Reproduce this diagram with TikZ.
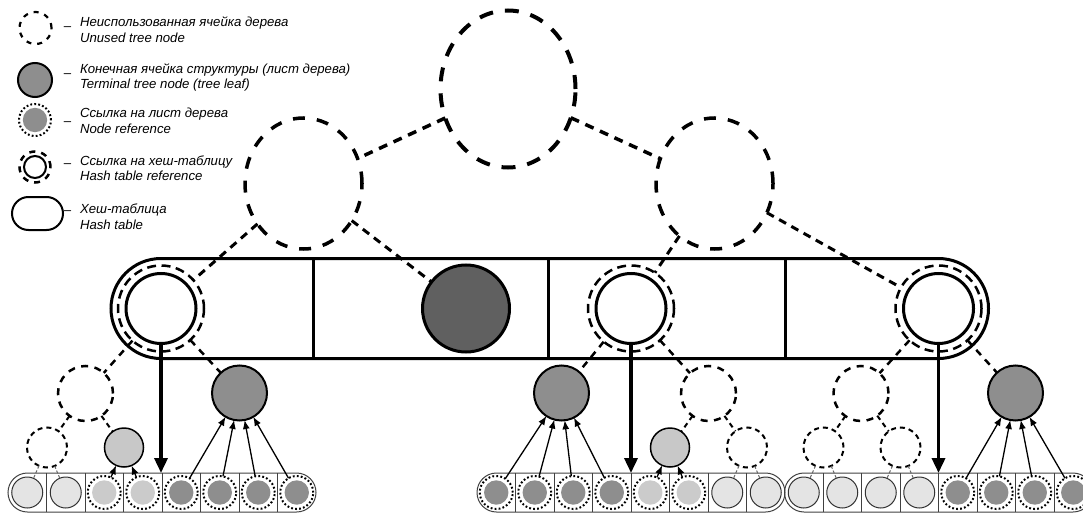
\documentclass[tikz,border=0pt]{standalone}
\usepackage{fontspec}
\setmainfont{Liberation Sans}
\usetikzlibrary{shapes.geometric,arrows.meta}
\definecolor{darkleaf}{HTML}{606060}
\definecolor{leafgray}{HTML}{8E8E8E}
\definecolor{lightleaf}{HTML}{C8C8C8}
\definecolor{plainlight}{HTML}{E4E4E4}
\definecolor{dotlight}{HTML}{CBCBCB}
\definecolor{dotdark}{HTML}{8E8E8E}
\begin{document}
\begin{tikzpicture}[x=1pt,y=-1pt,
  every node/.style={inner sep=0pt,outer sep=0pt},
  rootnode/.style={ellipse,draw,line width=4pt,dash pattern=on 14pt off 12pt,minimum width=135pt,minimum height=157pt},
  levelone/.style={ellipse,draw,line width=3.5pt,dash pattern=on 12pt off 12pt,minimum width=117pt,minimum height=131pt},
  midunused/.style={circle,draw,line width=2.5pt,dash pattern=on 7pt off 6.5pt,minimum size=55pt},
  smallunused/.style={circle,draw,line width=2pt,dash pattern=on 5pt off 4pt,minimum size=40pt},
  topedge/.style={line width=3.5pt,dash pattern=on 9pt off 7pt},
  hedge/.style={line width=3pt,dash pattern=on 8pt off 6pt},
  midedge/.style={line width=2.5pt,dash pattern=on 7pt off 6pt},
  smalledge/.style={line width=2pt,dash pattern=on 5pt off 4pt},
  tinyedge/.style={line width=1pt,draw=black!60,dash pattern=on 3pt off 2pt},
  hashin/.style={circle,draw,line width=3pt,fill=white,minimum size=70pt},
  hashout/.style={circle,draw,line width=2.5pt,dash pattern=on 9pt off 5.5pt,minimum size=86pt},
  bigleaf/.style={circle,draw,line width=3pt,fill=darkleaf,minimum size=87pt},
  leaf/.style={circle,draw,line width=2pt,fill=leafgray,minimum size=55pt},
  lleaf/.style={circle,draw,line width=1.5pt,fill=lightleaf,minimum size=39pt},
  cellp/.style={circle,draw=black!80,line width=1pt,fill=plainlight,minimum size=31pt},
  celll/.style={circle,draw,line width=2pt,dash pattern=on 1.8pt off 2.2pt,minimum size=33pt,
    path picture={\fill[dotlight] (path picture bounding box.center) circle (12.2pt);}},
  celld/.style={circle,draw,line width=2pt,dash pattern=on 1.8pt off 2.2pt,minimum size=33pt,
    path picture={\fill[dotdark] (path picture bounding box.center) circle (12.2pt);}},
  smalltable/.style={draw=black!75,line width=1pt,rounded corners=19.5pt,minimum width=308pt,minimum height=39pt},
  cellline/.style={draw=black!75,line width=1pt},
  ref/.style={line width=1.3pt,-{Latex[length=9pt,width=7pt]}},
  bigarrow/.style={line width=3.5pt,-{Triangle[length=15pt,width=13pt]}},
  legtext/.style={anchor=base west,font=\fontsize{13.2pt}{15pt}\selectfont\itshape},
  legdash/.style={font=\fontsize{13.2pt}{15pt}\selectfont}
]
\useasboundingbox (0,0) rectangle (1083,513);
\clip (0,0) rectangle (1083,513);

% ---------- legend ----------
\node[circle,draw,line width=2.2pt,dash pattern=on 5pt off 6pt,minimum size=32pt] (sym1) at (35.5,28) {};
\node[circle,draw,line width=2pt,fill=leafgray,minimum size=34pt] (sym2) at (35,80) {};
\node[celld,minimum size=32pt] (sym3) at (35,120) {};
\node[circle,draw,line width=2pt,minimum size=22pt] (sym4i) at (35,167) {};
\node[circle,draw,line width=2.5pt,dash pattern=on 6pt off 6pt,minimum size=31pt] (sym4o) at (35,167) {};
\node[draw,line width=2pt,rounded corners=16.5pt,minimum width=51pt,minimum height=33pt] (sym5) at (37.5,213.5) {};

\node[legdash] (d1) at (67.5,29) {–};
\node[legdash] (d2) at (67.5,76) {–};
\node[legdash] (d3) at (67.5,124) {–};
\node[legdash] (d4) at (67.5,166) {–};
\node[legdash] (d5) at (67.5,213) {–};

\node[legtext] (t1a) at (80,27) {Неиспользованная ячейка дерева};
\node[legtext] (t1b) at (80,42.5) {Unused tree node};
\node[legtext] (t2a) at (80,74) {Конечная ячейка структуры (лист дерева)};
\node[legtext] (t2b) at (80,89) {Terminal tree node (tree leaf)};
\node[legtext] (t3a) at (80,118) {Ссылка на лист дерева};
\node[legtext] (t3b) at (80,133.5) {Node reference};
\node[legtext] (t4a) at (80,166) {Ссылка на хеш-таблицу};
\node[legtext] (t4b) at (80,181) {Hash table reference};
\node[legtext] (t5a) at (80,213) {Хеш-таблица};
\node[legtext] (t5b) at (80,229) {Hash table};

% ---------- top tree ----------
\node[rootnode] (root) at (508,89) {};
\node[levelone] (L1) at (303.5,183.5) {};
\node[levelone] (R1) at (714.5,183.5) {};

% ---------- big hash table ----------
\node[draw,line width=3pt,rounded corners=50pt,minimum width=877.5pt,minimum height=100pt] (ht) at (549.75,308.5) {};
\foreach \x in {313,548,785} \draw[line width=3pt] (\x,258.5) -- (\x,358.5);

\node[hashin] (h1) at (161,308.5) {};
\node[hashout] (h1o) at (161,308.5) {};
\node[bigleaf] (dk) at (466,308.5) {};
\node[hashin] (h2) at (631,308.5) {};
\node[hashout] (h2o) at (631,308.5) {};
\node[hashin] (h3) at (938.5,308.5) {};
\node[hashout] (h3o) at (938.5,308.5) {};

\draw[topedge] (root) -- (L1);
\draw[topedge] (root) -- (R1);
\draw[hedge] (L1) -- (h1o);
\draw[hedge] (L1) -- (dk);
\draw[hedge] (R1) -- (h2o);
\draw[hedge] (R1) -- (h3o);

% ---------- lower trees ----------
\node[midunused] (m1) at (85.5,393.5) {};
\node[leaf] (fA) at (239.5,393) {};
\node[smallunused] (s1) at (47,447.5) {};
\node[lleaf] (lA) at (124,447.5) {};

\node[leaf] (fB) at (561.5,393) {};
\node[midunused] (m2) at (708.5,393.5) {};
\node[lleaf] (lB) at (670,447.5) {};
\node[smallunused] (s2) at (747,447.5) {};

\node[midunused] (m3) at (861,393.5) {};
\node[leaf] (fC) at (1015.5,393) {};
\node[smallunused] (s3) at (823.5,447.5) {};
\node[smallunused] (s4) at (900.5,447.5) {};

\draw[midedge] (h1o) -- (m1);
\draw[midedge] (h1o) -- (fA);
\draw[midedge] (h2o) -- (fB);
\draw[midedge] (h2o) -- (m2);
\draw[midedge] (h3o) -- (m3);
\draw[midedge] (h3o) -- (fC);
\draw[smalledge] (m1) -- (s1);
\draw[smalledge] (m1) -- (lA);
\draw[smalledge] (m2) -- (lB);
\draw[smalledge] (m2) -- (s2);
\draw[smalledge] (m3) -- (s3);
\draw[smalledge] (m3) -- (s4);

% ---------- bottom tables ----------
\node[smalltable] (tL) at (162,492.5) {};
\node[smalltable] (tM) at (631,492.5) {};
\node[smalltable] (tR) at (938.5,492.5) {};
\foreach \k in {1,...,7} {
  \draw[cellline] ({8+38.5*\k},473) -- ({8+38.5*\k},512);
  \draw[cellline] ({477+38.5*\k},473) -- ({477+38.5*\k},512);
  \draw[cellline] ({784.5+38.5*\k},473) -- ({784.5+38.5*\k},512);
}
\foreach \i/\t in {1/p,2/p,3/l,4/l,5/d,6/d,7/d,8/d}
  \node[cell\t] (cL\i) at ({8+38.5*(\i-0.5)},492.5) {};
\foreach \i/\t in {1/d,2/d,3/d,4/d,5/l,6/l,7/p,8/p}
  \node[cell\t] (cM\i) at ({477+38.5*(\i-0.5)},492.5) {};
\foreach \i/\t in {1/p,2/p,3/p,4/p,5/d,6/d,7/d,8/d}
  \node[cell\t] (cR\i) at ({784.5+38.5*(\i-0.5)},492.5) {};

\draw[tinyedge] (s1) -- (cL1);
\draw[tinyedge] (s1) -- (cL2);
\draw[tinyedge] (s2) -- (cM7);
\draw[tinyedge] (s2) -- (cM8);
\draw[tinyedge] (s3) -- (cR1);
\draw[tinyedge] (s3) -- (cR2);
\draw[tinyedge] (s4) -- (cR3);
\draw[tinyedge] (s4) -- (cR4);

\foreach \i in {3,4} \draw[ref] (cL\i) -- (lA);
\foreach \i in {5,...,8} \draw[ref] (cL\i) -- (fA);
\foreach \i in {1,...,4} \draw[ref] (cM\i) -- (fB);
\foreach \i in {5,6} \draw[ref] (cM\i) -- (lB);
\foreach \i in {5,...,8} \draw[ref] (cR\i) -- (fC);

\coordinate (aL) at (161,473);
\coordinate (aM) at (631,473);
\coordinate (aR) at (938.5,473);
\draw[bigarrow] (h1) -- (aL);
\draw[bigarrow] (h2) -- (aM);
\draw[bigarrow] (h3) -- (aR);
\end{tikzpicture}
\end{document}
